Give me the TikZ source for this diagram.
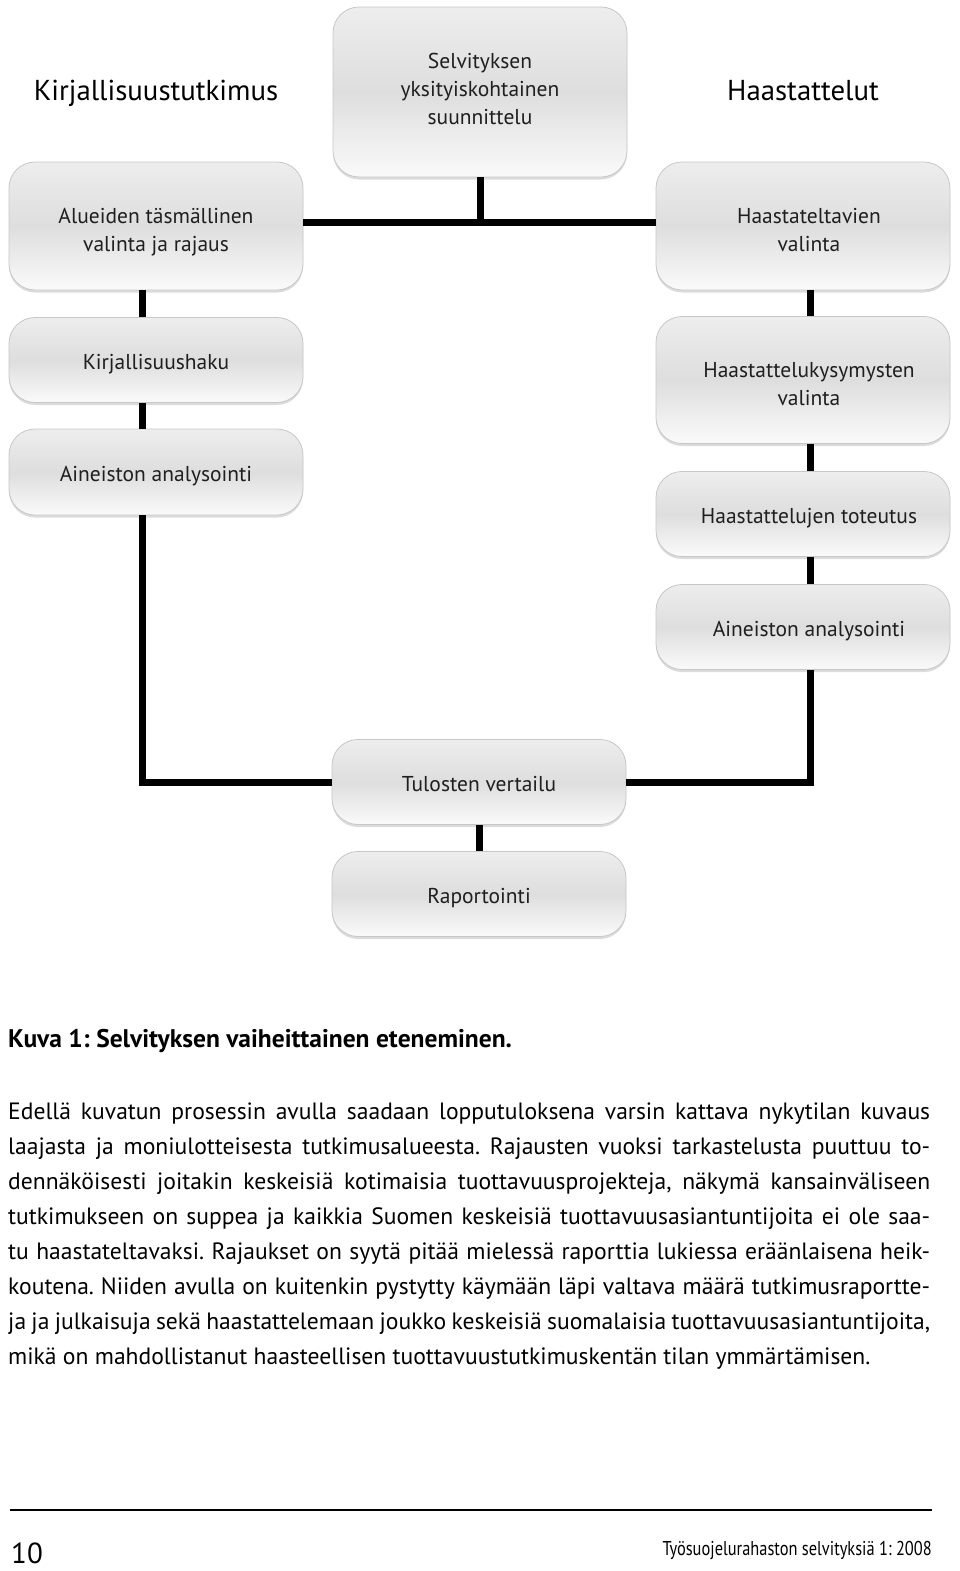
\documentclass[tikz,border=0pt]{standalone}
\usepackage{fontspec}
\setmainfont{PT Sans}
\newfontfamily\kapea[FakeStretch=0.82]{PT Sans}
\usetikzlibrary{shadows}

\newcommand{\rivi}[1]{\makebox[922pt][s]{#1}}
% text of a box, drawn a little lower than the box centre
\newcommand{\alas}[2][5pt]{\raisebox{-#1}[\height][\depth]{\begin{tabular}{@{}c@{}}#2\end{tabular}}}

\begin{document}
\frenchspacing
\begin{tikzpicture}[x=1pt,y=-1pt,
  vaihe/.style={rectangle,rounded corners=26pt,minimum width=294pt,inner sep=0pt,
    draw=black!22,line width=0.8pt,
    top color=black!7,bottom color=black!2,middle color=black!13,
    drop shadow={shadow xshift=0pt,shadow yshift=-2.5pt,opacity=0.35,fill=black!40},
    font=\fontsize{21.5}{27.5}\selectfont,text=black!88},
  oikea vaihe/.style={vaihe,execute at begin node=\hspace*{12pt}},
  otsikko/.style={anchor=base,font=\fontsize{28.8}{32}\selectfont},
  linkki/.style={draw=black,line width=7pt}]
\useasboundingbox (0,0) rectangle (960,1571);
% the study: planning first, then literature (left) and interviews (right)
\node[otsikko] (kirjallisuus) at (156,100) {Kirjallisuustutkimus};
\node[otsikko] (haastattelut) at (803,100) {Haastattelut};
\node[vaihe,minimum height=170pt] (suunnittelu) at (480,92) {\alas[-1pt]{Selvityksen\\yksityiskohtainen\\suunnittelu}};
\node[vaihe,minimum height=128pt] (alueet) at (156,226) {\alas[6pt]{Alueiden täsmällinen\\valinta ja rajaus}};
\node[vaihe,minimum height=85pt] (haku) at (156,360) {\alas[4pt]{Kirjallisuushaku}};
\node[vaihe,minimum height=86pt] (analyysiK) at (156,472) {\alas[4pt]{Aineiston analysointi}};
\node[oikea vaihe,minimum height=128pt] (haastateltavat) at (803,226) {\alas[6pt]{Haastateltavien\\valinta}};
\node[oikea vaihe,minimum height=127pt] (kysymykset) at (803,380) {\alas[6pt]{Haastattelukysymysten\\valinta}};
\node[oikea vaihe,minimum height=85pt] (toteutus) at (803,514) {\alas[4pt]{Haastattelujen toteutus}};
\node[oikea vaihe,minimum height=85pt] (analyysiH) at (803,627) {\alas[4pt]{Aineiston analysointi}};
\node[vaihe,minimum height=85pt] (vertailu) at (479,782) {\alas[4pt]{Tulosten vertailu}};
\node[vaihe,minimum height=85pt] (raportointi) at (479,894) {\alas[4pt]{Raportointi}};
% connectors run on two columns left and right of the box centres
\coordinate (vasen) at (142,0);
\coordinate (oikea) at (810,0);
\coordinate (haara) at (480,222);
\draw[linkki] (suunnittelu.south) -- (haara);
\draw[linkki] (alueet.east |- haara) -- (haastateltavat.west |- haara);
\draw[linkki] (alueet.south -| vasen) -- (haku.north -| vasen);
\draw[linkki] (haku.south -| vasen) -- (analyysiK.north -| vasen);
\draw[linkki] (analyysiK.south -| vasen) |- (vertailu.west);
\draw[linkki] (haastateltavat.south -| oikea) -- (kysymykset.north -| oikea);
\draw[linkki] (kysymykset.south -| oikea) -- (toteutus.north -| oikea);
\draw[linkki] (toteutus.south -| oikea) -- (analyysiH.north -| oikea);
\draw[linkki] (analyysiH.south -| oikea) |- (vertailu.east);
\draw[linkki] (vertailu.south) -- (raportointi.north);
% caption and text of the page
\node[anchor=west,inner sep=0pt,font=\bfseries\fontsize{25.5}{28}\selectfont] (kuvateksti) at (8,1041)
  {Kuva 1: Selvityksen vaiheittainen eteneminen.};
\node[anchor=north west,inner sep=0pt,align=left,font=\fontsize{23.6}{34.9}\selectfont] (teksti) at (8,1103)
  {\rivi{Edellä kuvatun prosessin avulla saadaan lopputuloksena varsin kattava nykytilan kuvaus}\\
   \rivi{laajasta ja moniulotteisesta tutkimusalueesta. Rajausten vuoksi tarkastelusta puuttuu to-}\\
   \rivi{dennäköisesti joitakin keskeisiä kotimaisia tuottavuusprojekteja, näkymä kansainväliseen}\\
   \rivi{tutkimukseen on suppea ja kaikkia Suomen keskeisiä tuottavuusasiantuntijoita ei ole saa-}\\
   \rivi{tu haastateltavaksi. Rajaukset on syytä pitää mielessä raporttia lukiessa eräänlaisena heik-}\\
   \rivi{koutena. Niiden avulla on kuitenkin pystytty käymään läpi valtava määrä tutkimusraportte-}\\
   \rivi{ja ja julkaisuja sekä haastattelemaan joukko keskeisiä suomalaisia tuottavuusasiantuntijoita,}\\
   mikä on mahdollistanut haasteellisen tuottavuustutkimuskentän tilan ymmärtämisen.};
\draw[line width=2.5pt] (10,1510) -- (932,1510);
\node[anchor=west,inner sep=0pt,font=\fontsize{29}{30}\selectfont] (sivu) at (11,1553) {10};
\node[anchor=east,inner sep=0pt,font=\kapea\fontsize{20}{22}\selectfont] (sarja) at (932,1550)
  {Työsuojelurahaston selvityksiä 1: 2008};
\end{tikzpicture}
\end{document}
